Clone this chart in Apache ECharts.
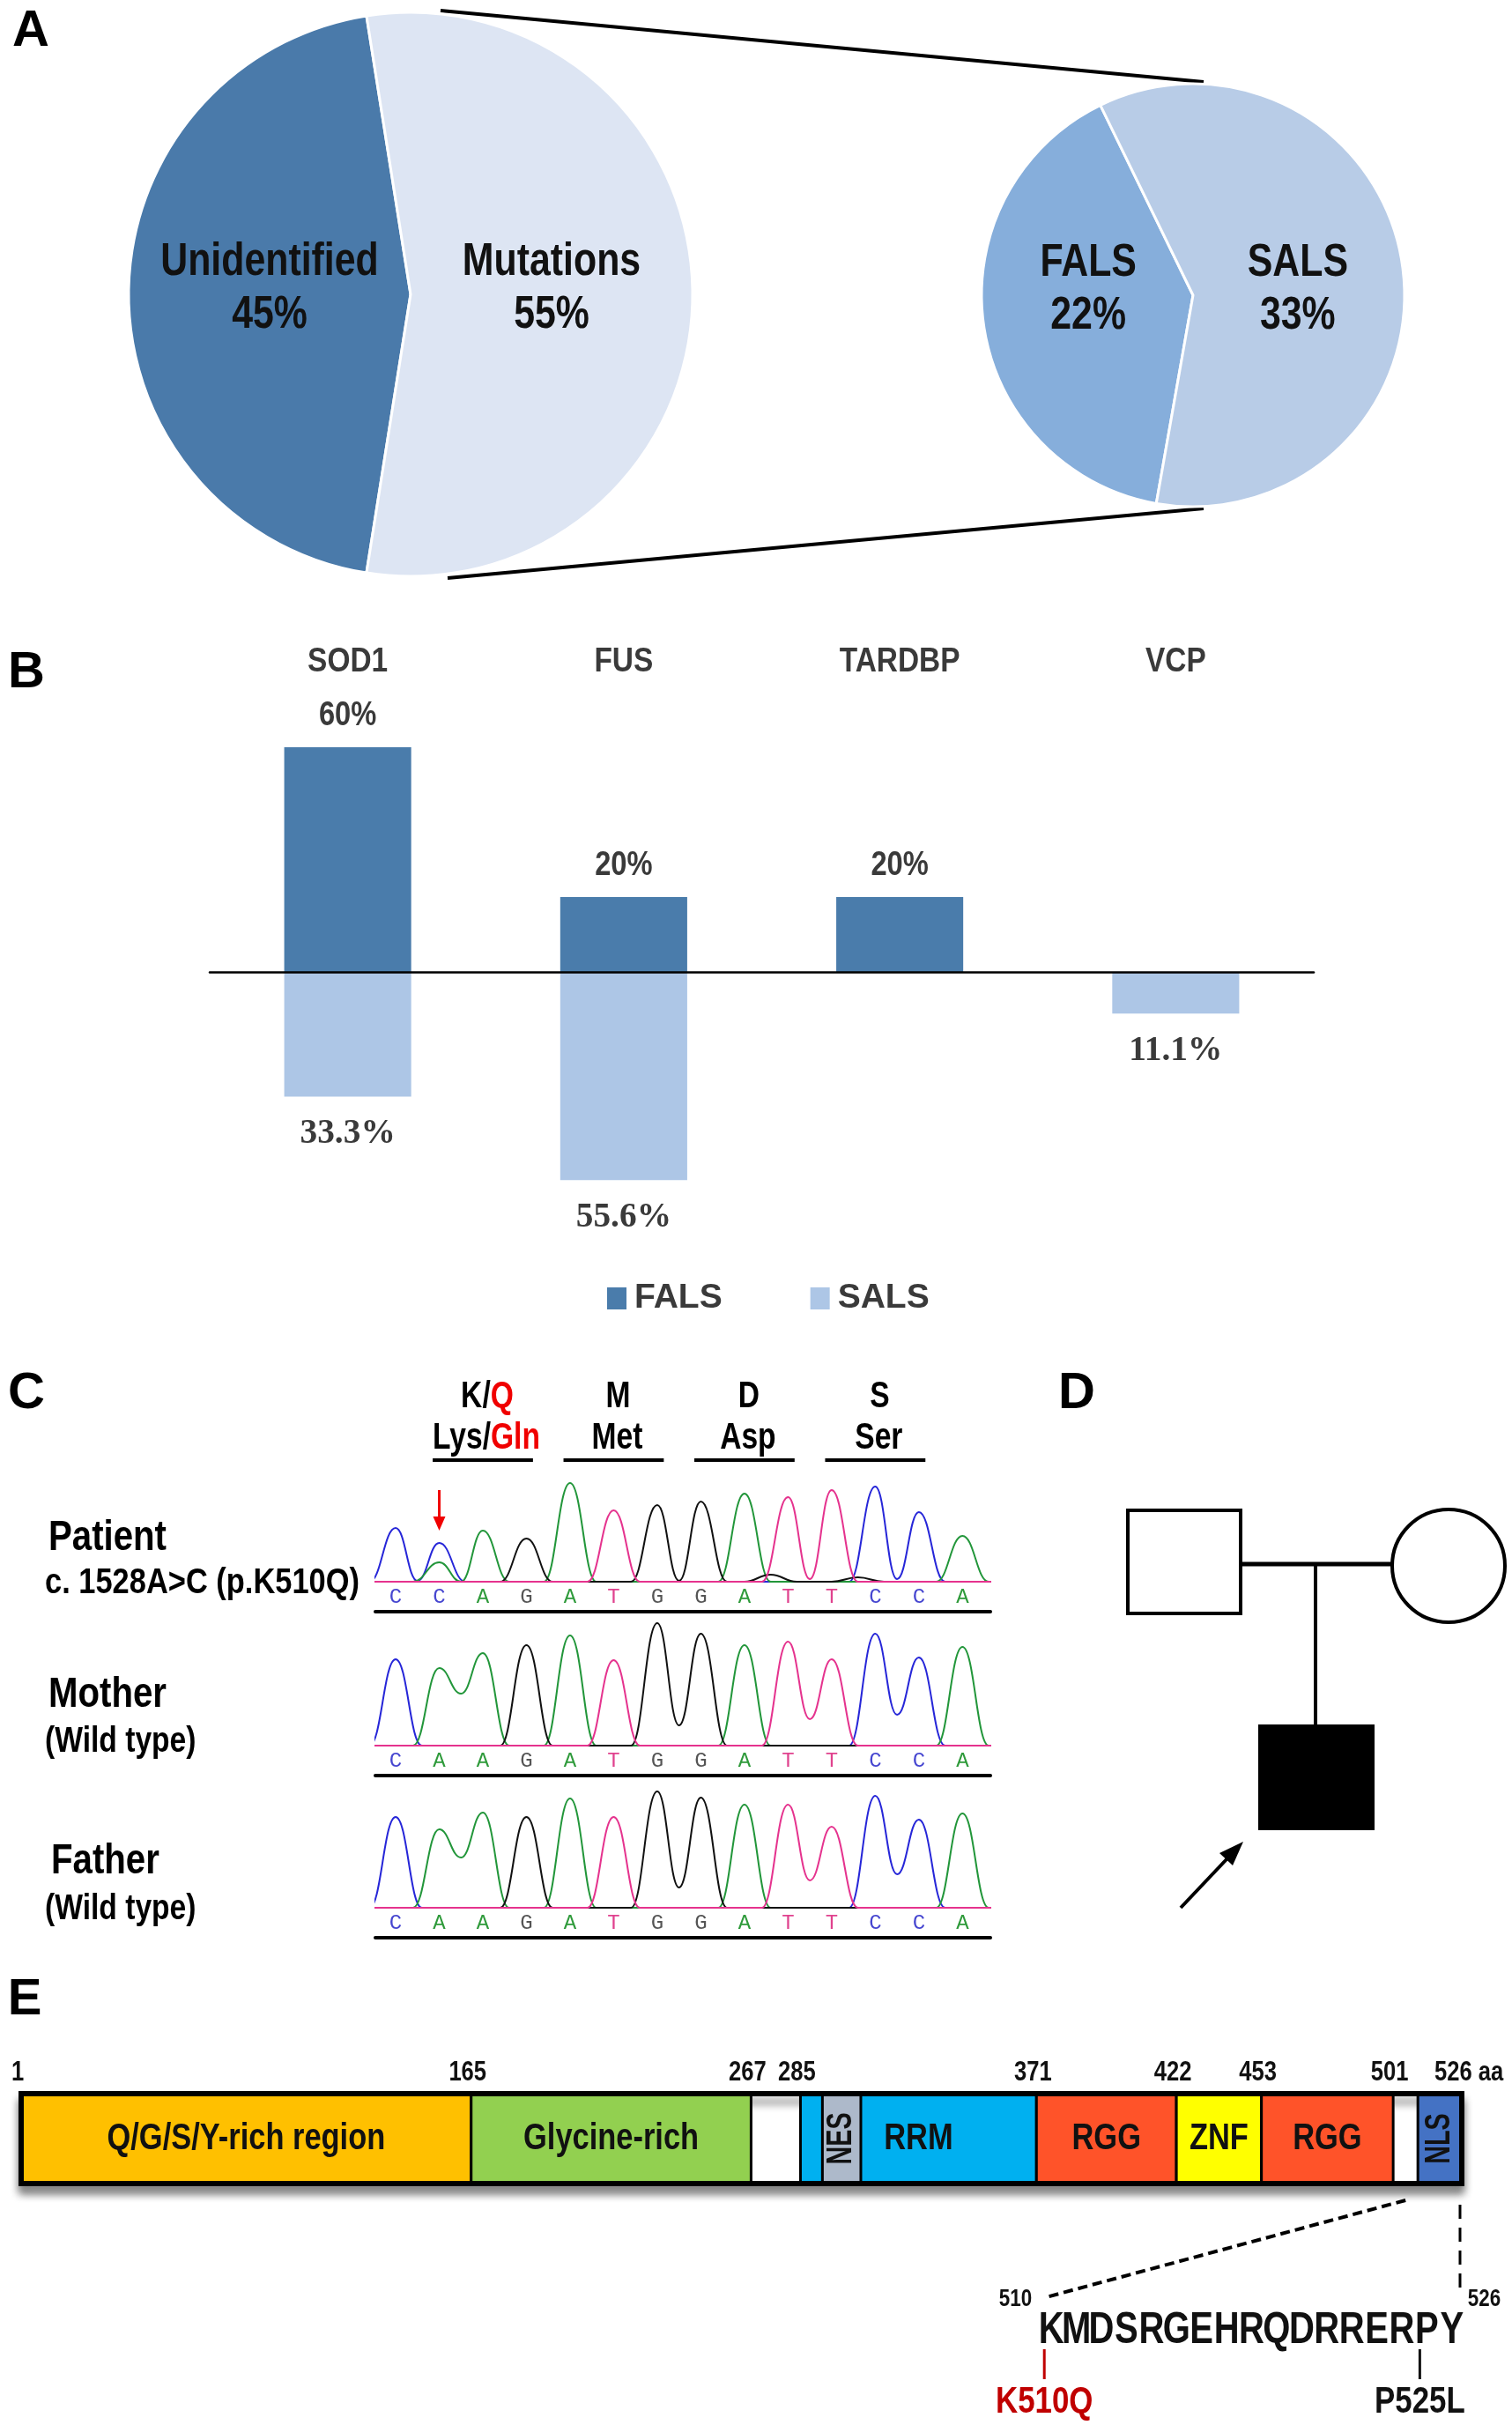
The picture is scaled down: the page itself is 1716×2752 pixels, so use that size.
<!DOCTYPE html>
<html><head><meta charset="utf-8">
<script src="https://cdn.jsdelivr.net/npm/echarts@6/dist/echarts.min.js"></script>
<style>html,body{margin:0;padding:0;background:#fff}#c{width:1716px;height:2752px}</style>
</head><body><div id="c"></div>
<script>
// ================= DATA =================
// Panel A
const pieMainNames = ['Unidentified', 'Mutations'];
const pieMainValues = [45, 55];
const pieSubNames = ['FALS', 'SALS'];
const pieSubValues = [22, 33];

// Panel B
const genes = ['SOD1', 'FUS', 'TARDBP', 'VCP'];
const falsPct = [60, 20, 20, null];
const salsPct = [33.3, 55.6, null, 11.1];

// Panel C (Sanger traces) - bases and peak heights
const basesPatient = ['C','C','A','G','A','T','G','G','A','T','T','C','C','A'];
const basesMother  = ['C','A','A','G','A','T','G','G','A','T','T','C','C','A'];
const basesFather  = ['C','A','A','G','A','T','G','G','A','T','T','C','C','A'];
const peaksPatient = [61, 44, 58, 49, 112, 81, 87, 91, 100, 96, 104, 108, 79, 52];
const peaksMother  = [98, 88, 105, 114, 125, 97, 139, 127, 114, 118, 98, 127, 100, 112];
const peaksFather  = [103, 89, 108, 103, 124, 103, 132, 125, 117, 117, 92, 127, 100, 107];
// valleys between neighbouring peaks of the same base: [left position, height]
const valleysPatient = [[1, 1], [7, 1], [10, 3], [12, 3]];
const valleysMother  = [[2, 59], [7, 23], [10, 30], [12, 35]];
const valleysFather  = [[2, 57], [7, 23], [10, 31], [12, 38]];
// secondary / minor peaks: [position, base, height]
const minorPatient = [[2, 'A', 22], [9.6, 'G', 8], [11.6, 'G', 5]];
const minorMother = [];
const minorFather = [];
const codonCenters = [3, 6, 9, 12];
const codonOne = ['K/Q', 'M', 'D', 'S'];
const codonThree = ['Lys/Gln', 'Met', 'Asp', 'Ser'];
const mutationBase = 2;
const sampleNames = ['Patient', 'Mother', 'Father'];
const sampleNotes = ['c. 1528A>C (p.K510Q)', '(Wild type)', '(Wild type)'];

// Panel E (FUS protein)
const domainStart = [1, 165, 285, 293, 371, 422, 453, 510];
const domainEnd   = [165, 267, 371, 307, 422, 453, 501, 526];
const domainLabel = ['Q/G/S/Y-rich region', 'Glycine-rich', 'RRM', 'NES', 'RGG', 'ZNF', 'RGG', 'NLS'];
const boundaryTicks = [1, 165, 267, 285, 371, 422, 453, 501, 526];
const proteinLength = 526;
const nlsStart = 510;
const nlsSeq = ['K','M','D','S','R','G','E','H','R','Q','D','R','R','E','R','P','Y'];
const seqMutPos = [510, 525];
const seqMutLabel = ['K510Q', 'P525L'];

// ================= STYLE =================
const ARIAL = '"Liberation Sans",Arial,sans-serif';
const SERIF = '"Liberation Serif","Times New Roman",serif';
const MONO = '"Liberation Mono","DejaVu Sans Mono",monospace';
const PIE_MAIN_COLORS = ['#4A7AAA', '#DDE5F3'];
const PIE_SUB_COLORS = ['#86AEDB', '#B8CCE7'];
const FALS_COLOR = '#4A7CAB';
const SALS_COLOR = '#ADC6E6';
const GREY_TEXT = '#3A3A3A';
const TRACE_COLORS = {C: '#2626D8', A: '#22963A', G: '#111111', T: '#E5338E'};
const BASE_TEXT_COLORS = {C: '#4646D0', A: '#2E9A3A', G: '#555555', T: '#E0428E'};
const DOMAIN_COLORS = {'Q/G/S/Y-rich region': '#FFC000', 'Glycine-rich': '#92D050', 'RRM': '#00B0F0',
  'NES': '#ADB9CA', 'RGG': '#FF5329', 'ZNF': '#FFFF00', 'NLS': '#4472C4'};
const PEAK_HALF = 0.6;

// condensed bold text (Arial Narrow look) built from Liberation Sans with a horizontal scale
function ntext(text, x, y, size, o) {
  o = o || {};
  const align = o.align || 'center';
  const st = {text: text, x: 0, y: 0, font: (o.weight || 'bold') + ' ' + size + 'px ' + (o.family || ARIAL),
    fill: o.fill || '#000', align: align, verticalAlign: 'middle', textAlign: align, textVerticalAlign: 'middle'};
  if (o.rich) st.rich = o.rich;
  return {type: 'text', x: x, y: y, scaleX: o.sx || 0.82, rotation: o.rotation || 0, z: 100, z2: 10, style: st};
}

function channelData(bases, peaks, valleys, minors, ch) {
  const list = [];
  bases.forEach((b, i) => { if (b === ch) list.push([i + 1, peaks[i]]); });
  minors.forEach(m => { if (m[1] === ch) list.push([m[0], m[2]]); });
  list.sort((a, b) => a[0] - b[0]);
  const pts = [[0, 0]];
  list.forEach(([p, h], k) => {
    const prev = list[k - 1];
    if (!(prev && p - prev[0] <= 2 * PEAK_HALF)) pts.push([p - PEAK_HALF, 0]);
    pts.push([p, h]);
    const next = list[k + 1];
    if (next && next[0] - p <= 2 * PEAK_HALF) {
      const v = valleys.find(vv => vv[0] === p);
      pts.push([(p + next[0]) / 2, v ? v[1] : 0]);
    } else pts.push([p + PEAK_HALF, 0]);
  });
  pts.push([15, 0]);
  return pts;
}

const traces = [
  {bases: basesPatient, peaks: peaksPatient, valleys: valleysPatient, minors: minorPatient},
  {bases: basesMother, peaks: peaksMother, valleys: valleysMother, minors: minorMother},
  {bases: basesFather, peaks: peaksFather, valleys: valleysFather, minors: minorFather}
];
const traceTops = [1645, 1831, 2015];
const PIE_MAIN = {center: [466, 334], radius: 320, startAngle: 261};
const PIE_SUB = {center: [1354, 335], radius: 240, startAngle: 260};

const series = [];
// Panel A pies
[[pieMainNames, pieMainValues, PIE_MAIN_COLORS, PIE_MAIN], [pieSubNames, pieSubValues, PIE_SUB_COLORS, PIE_SUB]].forEach(([names, vals, cols, geo]) => {
  series.push({
    type: 'pie', center: geo.center, radius: geo.radius, startAngle: geo.startAngle, silent: true, z: 2,
    data: names.map((n, i) => ({name: n, value: vals[i], itemStyle: {color: cols[i]}})),
    itemStyle: {borderColor: '#fff', borderWidth: 3},
    label: {show: false}, labelLine: {show: false}
  });
});
// Panel B bars
series.push({name: 'FALS', type: 'bar', xAxisIndex: 0, yAxisIndex: 0, data: falsPct, barWidth: '46%', barGap: '-100%', itemStyle: {color: FALS_COLOR}});
series.push({name: 'SALS', type: 'bar', xAxisIndex: 0, yAxisIndex: 0, data: salsPct.map(v => v == null ? null : -v), barWidth: '46%', barGap: '-100%', itemStyle: {color: SALS_COLOR}});
series.push({
  type: 'custom', xAxisIndex: 0, yAxisIndex: 0, silent: true, data: genes.map((gn, i) => [i, 0]),
  renderItem: (params, api) => {
    const x = api.coord([api.value(0), 0])[0];
    return ntext(genes[params.dataIndex], x, params.coordSys.y - 96, 38, {fill: GREY_TEXT, sx: 0.88});
  }
});
series.push({
  type: 'custom', xAxisIndex: 0, yAxisIndex: 0, silent: true, data: genes.map((gn, i) => [i, falsPct[i] == null ? 0 : falsPct[i]]),
  renderItem: (params, api) => {
    const v = falsPct[params.dataIndex];
    if (v == null) return null;
    const pt = api.coord([api.value(0), v]);
    return ntext(v + '%', pt[0], pt[1] - 35, 38, {fill: GREY_TEXT, sx: 0.86});
  }
});
series.push({
  type: 'custom', xAxisIndex: 0, yAxisIndex: 0, silent: true, data: genes.map((gn, i) => [i, salsPct[i] == null ? 0 : -salsPct[i]]),
  renderItem: (params, api) => {
    const v = salsPct[params.dataIndex];
    if (v == null) return null;
    const pt = api.coord([api.value(0), -v]);
    return ntext(v + '%', pt[0], pt[1] + 42, 41, {fill: GREY_TEXT, sx: 0.96, family: SERIF});
  }
});
// Panel C traces
traces.forEach((t, ti) => {
  ['C', 'A', 'G', 'T'].forEach(ch => {
    series.push({
      type: 'line', xAxisIndex: 2 + ti, yAxisIndex: 1 + ti, symbol: 'none', smooth: 0.45, smoothMonotone: 'x',
      data: channelData(t.bases, t.peaks, t.valleys, t.minors, ch),
      lineStyle: {color: TRACE_COLORS[ch], width: 2}, silent: true
    });
  });
  series.push({
    type: 'custom', xAxisIndex: 2 + ti, yAxisIndex: 1 + ti, silent: true,
    data: t.bases.map((b, i) => [i + 1, 0]),
    renderItem: (params, api) => {
      const b = t.bases[params.dataIndex];
      const pt = api.coord([api.value(0), 0]);
      return {type: 'text', style: {text: b, x: pt[0], y: pt[1] + 18, align: 'center', verticalAlign: 'middle',
        textAlign: 'center', textVerticalAlign: 'middle', fill: BASE_TEXT_COLORS[b], font: '24px ' + MONO}};
    }
  });
});
function richify(s) {
  const parts = s.split('/');
  return parts.length > 1 ? '{n|' + parts[0] + '/}{r|' + parts[1] + '}' : '{n|' + s + '}';
}
const codonRich = {
  n: {fill: '#000', fontSize: 42, fontWeight: 'bold', fontFamily: ARIAL},
  r: {fill: '#F00000', fontSize: 42, fontWeight: 'bold', fontFamily: ARIAL}
};
series.push({
  type: 'custom', xAxisIndex: 2, yAxisIndex: 1, silent: true,
  data: codonCenters.map(c => [c, 0]),
  renderItem: (params, api) => {
    const i = params.dataIndex, c = api.value(0);
    const x = api.coord([c, 0])[0];
    const xl = api.coord([c - 1.15, 0])[0], xr = api.coord([c + 1.15, 0])[0];
    const top = params.coordSys.y;
    return {type: 'group', children: [
      ntext(richify(codonOne[i]), x + 5, top - 60, 42, {rich: codonRich, sx: 0.8}),
      ntext(richify(codonThree[i]), x + 4, top - 13, 42, {rich: codonRich, sx: 0.8}),
      {type: 'line', shape: {x1: xl, y1: top + 12, x2: xr, y2: top + 12}, style: {stroke: '#000', lineWidth: 4}}
    ]};
  }
});
series.push({
  type: 'custom', xAxisIndex: 2, yAxisIndex: 1, silent: true,
  data: [[mutationBase, peaksPatient[mutationBase - 1]]],
  renderItem: (params, api) => {
    const pt = api.coord([api.value(0), api.value(1)]);
    const tipY = pt[1] - 14, x = pt[0];
    return {type: 'group', children: [
      {type: 'line', shape: {x1: x, y1: tipY - 46, x2: x, y2: tipY - 12}, style: {stroke: '#F00000', lineWidth: 3}},
      {type: 'polygon', shape: {points: [[x - 7, tipY - 16], [x + 7, tipY - 16], [x, tipY]]}, style: {fill: '#F00000'}}
    ]};
  }
});
// Panel E protein
series.push({
  type: 'custom', xAxisIndex: 5, yAxisIndex: 4, silent: true, z: 1,
  data: [[1, proteinLength]],
  renderItem: (params, api) => {
    const p0 = api.coord([api.value(0), 1]), p1 = api.coord([api.value(1), 0]);
    return {type: 'rect', shape: {x: p0[0], y: p0[1], width: p1[0] - p0[0], height: p1[1] - p0[1]},
      style: {fill: '#fff', stroke: '#000', lineWidth: 6, shadowBlur: 10, shadowOffsetY: 9, shadowColor: 'rgba(0,0,0,0.45)'}};
  }
});
series.push({
  type: 'custom', xAxisIndex: 5, yAxisIndex: 4, silent: true, z: 3,
  data: domainStart.map((s, i) => [s, domainEnd[i], i]),
  renderItem: (params, api) => {
    const i = api.value(2), name = domainLabel[i];
    const p0 = api.coord([api.value(0), 1]), p1 = api.coord([api.value(1), 0]);
    const w = p1[0] - p0[0], h = p1[1] - p0[1];
    const vertical = w < 90;
    return {type: 'group', children: [
      {type: 'rect', shape: {x: p0[0], y: p0[1], width: w, height: h}, style: {fill: DOMAIN_COLORS[name], stroke: '#000', lineWidth: 3}},
      vertical ? ntext(name, p0[0] + w / 2, p0[1] + h / 2, 40, {rotation: Math.PI / 2, sx: 0.72, fill: '#111'})
               : ntext(name, p0[0] + w / 2, p0[1] + h / 2, 42, {sx: 0.82, fill: '#111'})
    ]};
  }
});
series.push({
  type: 'custom', xAxisIndex: 5, yAxisIndex: 4, silent: true, z: 4,
  data: [[1, proteinLength]],
  renderItem: (params, api) => {
    const p0 = api.coord([api.value(0), 1]), p1 = api.coord([api.value(1), 0]);
    return {type: 'rect', shape: {x: p0[0], y: p0[1], width: p1[0] - p0[0], height: p1[1] - p0[1]},
      style: {fill: 'none', stroke: '#000', lineWidth: 6}};
  }
});
series.push({
  type: 'custom', xAxisIndex: 5, yAxisIndex: 4, silent: true, z: 4,
  data: boundaryTicks.map(v => [v, 1]),
  renderItem: (params, api) => {
    const v = api.value(0);
    const pt = api.coord([v, 1]);
    if (v === proteinLength) return ntext(v + ' aa', pt[0] - 31, pt[1] - 24, 32, {sx: 0.8, fill: '#111', align: 'left'});
    return ntext(String(v), pt[0] - 4, pt[1] - 24, 32, {sx: 0.8, fill: '#111'});
  }
});
// Sequence of NLS
series.push({
  type: 'custom', xAxisIndex: 6, yAxisIndex: 5, silent: true,
  data: nlsSeq.map((c, i) => [nlsStart + i, 0.5]),
  renderItem: (params, api) => {
    const i = params.dataIndex;
    const pt = api.coord([api.value(0), api.value(1)]);
    const ch = [ntext(nlsSeq[i], pt[0], pt[1], 50, {sx: 0.8, fill: '#111'})];
    if (i === 0) ch.push(ntext(String(api.value(0)), pt[0] - 22, pt[1] - 36, 28, {align: 'right', sx: 0.8, fill: '#111'}));
    if (i === nlsSeq.length - 1) ch.push(ntext(String(api.value(0)), pt[0] + 18, pt[1] - 36, 28, {align: 'left', sx: 0.8, fill: '#111'}));
    return {type: 'group', children: ch};
  }
});
series.push({
  type: 'custom', xAxisIndex: 6, yAxisIndex: 5, silent: true,
  data: seqMutPos.map((p, i) => [p, 0.5, i]),
  renderItem: (params, api) => {
    const i = api.value(2);
    const pt = api.coord([api.value(0), api.value(1)]);
    const col = i === 0 ? '#C00000' : '#111';
    const x = pt[0] - 8;
    return {type: 'group', children: [
      {type: 'line', shape: {x1: x, y1: pt[1] + 21, x2: x, y2: pt[1] + 55}, style: {stroke: col, lineWidth: 3}},
      ntext(seqMutLabel[i], x, pt[1] + 81, 42, {sx: 0.83, fill: col})
    ]};
  }
});

const hiddenVal = (extra) => Object.assign({type: 'value', show: false, splitLine: {show: false}}, extra);
const option = {
  animation: false,
  backgroundColor: '#fff',
  legend: {
    data: ['FALS', 'SALS'], left: 684, top: 1449, itemWidth: 22, itemHeight: 25, itemGap: 100, icon: 'rect',
    textStyle: {fontFamily: ARIAL, fontWeight: 'bold', fontSize: 39, color: GREY_TEXT, padding: [0, 0, 0, 4]}
  },
  grid: [
    {left: 238, top: 848, width: 1253, height: 510},
    {left: 426, top: traceTops[0], width: 698, height: 150},
    {left: 426, top: traceTops[1], width: 698, height: 150},
    {left: 426, top: traceTops[2], width: 698, height: 150},
    {left: 24, top: 2376, width: 1635, height: 102},
    {left: 1179, top: 2625, width: 483, height: 40}
  ],
  xAxis: [
    {type: 'category', gridIndex: 0, data: genes, position: 'bottom', z: 5,
      axisLine: {onZero: true, lineStyle: {color: '#000', width: 2.5}}, axisTick: {show: false}, axisLabel: {show: false}},
    {type: 'category', gridIndex: 0, data: genes, position: 'top', show: false},
    ...[1, 2, 3].map(g => ({type: 'value', gridIndex: g, min: 0.535, max: 14.64, position: 'bottom', offset: 34,
      axisLine: {show: true, onZero: false, lineStyle: {color: '#000', width: 4}}, axisTick: {show: false},
      axisLabel: {show: false}, splitLine: {show: false}})),
    {type: 'value', gridIndex: 4, min: 1, max: proteinLength, show: false, splitLine: {show: false}},
    {type: 'value', gridIndex: 5, min: 509.5, max: 526.5, show: false, splitLine: {show: false}}
  ],
  yAxis: [
    hiddenVal({gridIndex: 0, min: -60, max: 60}),
    hiddenVal({gridIndex: 1, min: 0, max: 150}),
    hiddenVal({gridIndex: 2, min: 0, max: 150}),
    hiddenVal({gridIndex: 3, min: 0, max: 150}),
    hiddenVal({gridIndex: 4, min: 0, max: 1}),
    hiddenVal({gridIndex: 5, min: 0, max: 1})
  ],
  series: series
};

const chart = echarts.init(document.getElementById('c'));
chart.setOption(option);

// ---- annotations ----
const LETTER = 'bold 58px ' + ARIAL;
function plain(text, x, y, font) {
  return {type: 'text', x: x, y: y, z: 100, style: {text: text, x: 0, y: 0, font: font, fill: '#000', align: 'center', verticalAlign: 'middle', textAlign: 'center', textVerticalAlign: 'middle'}};
}
const g = [
  plain('A', 35, 36, LETTER), plain('B', 30, 764, LETTER), plain('C', 30, 1582, LETTER),
  plain('D', 1222, 1582, LETTER), plain('E', 28, 2270, LETTER),
  {type: 'line', z: -1, shape: {x1: 500, y1: 12, x2: 1366, y2: 93}, style: {stroke: '#000', lineWidth: 4}},
  {type: 'line', z: -1, shape: {x1: 508, y1: 656, x2: 1366, y2: 577}, style: {stroke: '#000', lineWidth: 4}},
  // pedigree
  {type: 'rect', shape: {x: 1280, y: 1714, width: 128, height: 117}, style: {fill: '#fff', stroke: '#000', lineWidth: 4}},
  {type: 'circle', shape: {cx: 1644, cy: 1777, r: 64}, style: {fill: '#fff', stroke: '#000', lineWidth: 4}},
  {type: 'line', shape: {x1: 1408, y1: 1775, x2: 1580, y2: 1775}, style: {stroke: '#000', lineWidth: 5}},
  {type: 'line', shape: {x1: 1493, y1: 1775, x2: 1493, y2: 1958}, style: {stroke: '#000', lineWidth: 4}},
  {type: 'rect', shape: {x: 1428, y: 1957, width: 132, height: 120}, style: {fill: '#000'}},
  {type: 'line', shape: {x1: 1340, y1: 2165, x2: 1393, y2: 2109}, style: {stroke: '#000', lineWidth: 4}},
  {type: 'polygon', shape: {points: [[1411, 2090], [1399, 2117], [1384, 2103]]}, style: {fill: '#000'}}
];
// sample labels for panel C
const nameY = [1745, 1923, 2112], noteY = [1797, 1977, 2167];
sampleNames.forEach((n, i) => {
  g.push(ntext(n, i === 2 ? 58 : 55, nameY[i], 49, {align: 'left', sx: 0.82}));
  g.push(ntext(sampleNotes[i], 51, noteY[i], 41, {align: 'left', sx: i === 0 ? 0.84 : 0.82}));
});
// pie labels (name + value), placed on each slice's bisector
function pieLabels(names, vals, geo) {
  const total = vals.reduce((s, v) => s + v, 0);
  let ang = geo.startAngle;
  names.forEach((n, i) => {
    const span = vals[i] / total * 360;
    const mid = (ang - span / 2) * Math.PI / 180;
    ang -= span;
    const x = geo.center[0] + geo.radius * 0.5 * Math.cos(mid);
    const y = geo.center[1] - 6;
    g.push(ntext(n, x, y - 30, 51, {sx: 0.84, fill: '#111'}));
    g.push(ntext(vals[i] + '%', x, y + 30, 51, {sx: 0.84, fill: '#111'}));
  });
}
pieLabels(pieMainNames, pieMainValues, PIE_MAIN);
pieLabels(pieSubNames, pieSubValues, PIE_SUB);
// dashed zoom lines in panel E, from the library's own coordinate conversion
const a = chart.convertToPixel({xAxisIndex: 5, yAxisIndex: 4}, [nlsStart, 0]);
const b = chart.convertToPixel({xAxisIndex: 6, yAxisIndex: 5}, [nlsStart, 0.5]);
const c = chart.convertToPixel({xAxisIndex: 5, yAxisIndex: 4}, [proteinLength, 0]);
const d = chart.convertToPixel({xAxisIndex: 6, yAxisIndex: 5}, [proteinLength, 0.5]);
g.push({type: 'line', shape: {x1: a[0] - 14, y1: a[1] + 19, x2: b[0] - 6, y2: b[1] - 38}, style: {stroke: '#000', lineWidth: 4, lineDash: [11, 6]}});
g.push({type: 'line', shape: {x1: c[0] - 2, y1: c[1] + 24, x2: c[0] - 2, y2: d[1] - 40}, style: {stroke: '#000', lineWidth: 3, lineDash: [16, 10]}});
chart.setOption({graphic: {elements: g}});
</script>
</body></html>
